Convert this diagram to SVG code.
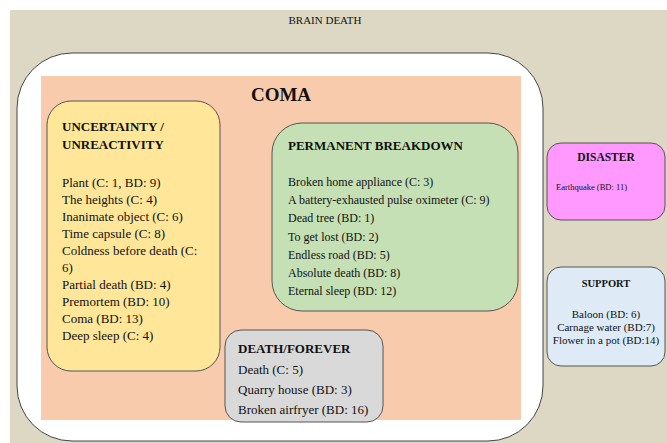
<svg xmlns="http://www.w3.org/2000/svg" width="667" height="443" viewBox="0 0 667 443">
<style>
text{font-family:"Liberation Serif","Times New Roman",serif;fill:#111}
.t{font-weight:bold;font-size:13px}
.l{font-size:12px}
.ly{font-size:13px}
.lg{font-size:13px}
.box{stroke:#555;stroke-width:1}
</style>
<rect x="0" y="0" width="667" height="443" fill="#fff"/>
<g id="brain-death">
<rect x="10" y="10" width="657" height="433" fill="#DDD8C4"/>
<text x="325" y="24" text-anchor="middle" font-size="11">BRAIN DEATH</text>
</g>
<g id="outer-white">
<rect x="17" y="53" width="526" height="388" rx="55" fill="#fff" stroke="#444" stroke-width="1"/>
</g>
<g id="coma">
<rect x="41" y="76" width="480" height="344" fill="#F7CBAC"/>
<text x="281" y="101" text-anchor="middle" font-size="19" font-weight="bold">COMA</text>
</g>
<g id="connectors"></g>
<g id="uncertainty">
<rect class="box" x="47" y="101" width="173" height="270" rx="24" fill="#FFE699"/>
<text class="t" x="62" y="131" font-size="13.5">UNCERTAINTY /</text>
<text class="t" x="62" y="149" font-size="13.5">UNREACTIVITY</text>
<text class="ly" x="62" y="187">Plant (C: 1, BD: 9)</text>
<text class="ly" x="62" y="204">The heights (C: 4)</text>
<text class="ly" x="62" y="221">Inanimate object (C: 6)</text>
<text class="ly" x="62" y="238">Time capsule (C: 8)</text>
<text class="ly" x="62" y="255">Coldness before death (C:</text>
<text class="ly" x="62" y="272">6)</text>
<text class="ly" x="62" y="289">Partial death (BD: 4)</text>
<text class="ly" x="62" y="306">Premortem (BD: 10)</text>
<text class="ly" x="62" y="323">Coma (BD: 13)</text>
<text class="ly" x="62" y="340">Deep sleep (C: 4)</text>
</g>
<g id="permanent">
<rect class="box" x="272" y="123" width="246" height="188" rx="30" fill="#C5E0B4"/>
<text class="t" x="288" y="150">PERMANENT BREAKDOWN</text>
<text class="l" x="288" y="186">Broken home appliance (C: 3)</text>
<text class="l" x="288" y="204">A battery-exhausted pulse oximeter (C: 9)</text>
<text class="l" x="288" y="222">Dead tree (BD: 1)</text>
<text class="l" x="288" y="241">To get lost (BD: 2)</text>
<text class="l" x="288" y="259">Endless road (BD: 5)</text>
<text class="l" x="288" y="277">Absolute death (BD: 8)</text>
<text class="l" x="288" y="295">Eternal sleep (BD: 12)</text>
</g>
<g id="death-forever">
<rect class="box" x="225" y="330" width="158" height="92" rx="16" fill="#D9D9D9"/>
<text class="t" x="238" y="353">DEATH/FOREVER</text>
<text class="lg" x="238" y="374">Death (C: 5)</text>
<text class="lg" x="238" y="394">Quarry house (BD: 3)</text>
<text class="lg" x="238" y="414">Broken airfryer (BD: 16)</text>
</g>
<g id="disaster">
<rect class="box" x="547" y="143" width="118" height="77" rx="14" fill="#FF99FF"/>
<text x="606" y="161" text-anchor="middle" font-size="11.5" font-weight="bold">DISASTER</text>
<text x="556" y="190" font-size="8.5">Earthquake (BD: 11)</text>
</g>
<g id="support">
<rect class="box" x="547" y="267" width="118" height="99" rx="14" fill="#DEEBF7"/>
<text x="606" y="287" text-anchor="middle" font-size="10.5" font-weight="bold">SUPPORT</text>
<text x="606" y="318" text-anchor="middle" font-size="11">Baloon (BD: 6)</text>
<text x="606" y="331" text-anchor="middle" font-size="11">Carnage water (BD:7)</text>
<text x="606" y="344" text-anchor="middle" font-size="11">Flower in a pot (BD:14)</text>
</g>
</svg>
